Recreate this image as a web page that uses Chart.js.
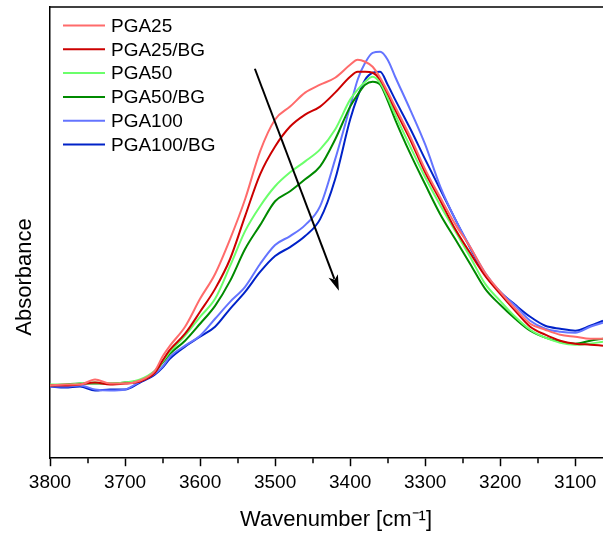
<!DOCTYPE html>
<html>
<head>
<meta charset="utf-8">
<script src="https://cdn.jsdelivr.net/npm/chart.js@4.4.0/dist/chart.umd.min.js"></script>
<style>
  html, body { margin: 0; padding: 0; background: #fff; }
  #wrap { width: 603px; height: 536px; }
</style>
</head>
<body>
<div id="wrap"><canvas id="Chart" width="603" height="536"></canvas></div>
<script>
// FTIR spectra, O-H / N-H stretching region
const wavenumber = [3800,3780,3760,3740,3720,3700,3680,3660,3650,3640,3620,3600,3580,3560,3540,3520,3500,3480,3460,3440,3420,3400,3390,3380,3370,3360,3350,3340,3320,3300,3280,3260,3240,3220,3200,3180,3160,3140,3120,3100,3080,3063];

const pga25 = [0.73,0.74,0.74,0.79,0.75,0.75,0.78,0.88,1.02,1.13,1.32,1.60,1.85,2.20,2.60,3.08,3.40,3.53,3.67,3.75,3.82,3.95,4.00,3.98,3.93,3.82,3.68,3.53,3.23,2.90,2.62,2.35,2.12,1.86,1.67,1.50,1.35,1.29,1.24,1.22,1.20,1.20];
const pga25bg = [0.73,0.73,0.74,0.76,0.74,0.75,0.77,0.86,0.98,1.09,1.25,1.47,1.70,2.00,2.43,2.85,3.13,3.33,3.45,3.53,3.67,3.83,3.88,3.88,3.87,3.80,3.66,3.50,3.20,2.87,2.59,2.30,2.06,1.83,1.65,1.48,1.32,1.24,1.18,1.15,1.14,1.13];
const pga50 = [0.74,0.74,0.75,0.76,0.75,0.76,0.79,0.88,0.97,1.07,1.23,1.42,1.60,1.93,2.28,2.53,2.73,2.87,2.98,3.10,3.30,3.60,3.70,3.78,3.83,3.77,3.62,3.45,3.13,2.82,2.54,2.28,2.02,1.75,1.58,1.42,1.29,1.21,1.16,1.14,1.15,1.17];
const pga50bg = [0.73,0.74,0.75,0.75,0.75,0.76,0.78,0.87,0.96,1.05,1.18,1.35,1.53,1.78,2.10,2.34,2.58,2.68,2.80,2.93,3.20,3.53,3.65,3.75,3.78,3.75,3.59,3.40,3.06,2.75,2.45,2.20,1.95,1.70,1.54,1.40,1.28,1.21,1.17,1.15,1.18,1.20];
const pga100 = [0.72,0.72,0.73,0.69,0.68,0.69,0.77,0.85,0.92,1.02,1.13,1.23,1.40,1.57,1.72,1.95,2.14,2.23,2.34,2.53,3.00,3.53,3.80,3.97,4.07,4.08,4.00,3.83,3.50,3.15,2.73,2.40,2.12,1.86,1.67,1.53,1.38,1.30,1.27,1.26,1.32,1.36];
const pga100bg = [0.72,0.71,0.72,0.68,0.69,0.69,0.76,0.84,0.91,1.00,1.12,1.22,1.32,1.50,1.67,1.87,2.03,2.12,2.23,2.40,2.80,3.40,3.63,3.80,3.87,3.88,3.75,3.60,3.31,3.00,2.70,2.40,2.11,1.84,1.67,1.54,1.42,1.33,1.30,1.28,1.33,1.38];

const names = ['PGA25','PGA25/BG','PGA50','PGA50/BG','PGA100','PGA100/BG'];
const series = [pga25, pga25bg, pga50, pga50bg, pga100, pga100bg];
const colors = ['#FF6B6B','#CC0000','#6BFF6B','#008A00','#6474FF','#0022C8'];

const minorTicks = [3750,3650,3550,3450,3350,3250,3150];
// trend arrow [wavenumber, absorbance]
const arrowFrom = [3527, 3.91];
const arrowTo = [3415, 1.68];

const FONT = "'Liberation Sans', Arial, sans-serif";

const extras = {
  id: 'extras',
  afterDraw(chart) {
    const ctx = chart.ctx;
    const a = chart.chartArea;
    const x = chart.scales.x, y = chart.scales.y;
    ctx.save();
    ctx.strokeStyle = '#000';
    ctx.fillStyle = '#000';

    // top frame line
    ctx.lineWidth = 1.5;
    ctx.beginPath();
    ctx.moveTo(a.left, a.top);
    ctx.lineTo(a.right, a.top);
    ctx.stroke();

    // minor ticks
    minorTicks.forEach(v => {
      const px = Math.round(x.getPixelForValue(v));
      ctx.beginPath();
      ctx.moveTo(px, a.bottom);
      ctx.lineTo(px, a.bottom + 5);
      ctx.stroke();
    });

    // arrow
    const x1 = x.getPixelForValue(arrowFrom[0]), y1 = y.getPixelForValue(arrowFrom[1]);
    const x2 = x.getPixelForValue(arrowTo[0]), y2 = y.getPixelForValue(arrowTo[1]);
    const ang = Math.atan2(y2 - y1, x2 - x1);
    const hl = 16, hw = 5;
    ctx.lineWidth = 2;
    ctx.beginPath();
    ctx.moveTo(x1, y1);
    ctx.lineTo(x2 - Math.cos(ang) * hl * 0.8, y2 - Math.sin(ang) * hl * 0.8);
    ctx.stroke();
    ctx.beginPath();
    ctx.moveTo(x2, y2);
    ctx.lineTo(x2 - Math.cos(ang) * hl - Math.sin(ang) * hw, y2 - Math.sin(ang) * hl + Math.cos(ang) * hw);
    ctx.lineTo(x2 - Math.cos(ang) * hl * 0.75, y2 - Math.sin(ang) * hl * 0.75);
    ctx.lineTo(x2 - Math.cos(ang) * hl + Math.sin(ang) * hw, y2 - Math.sin(ang) * hl - Math.cos(ang) * hw);
    ctx.closePath();
    ctx.fill();

    // legend
    ctx.font = '19px ' + FONT;
    ctx.textBaseline = 'middle';
    ctx.textAlign = 'left';
    chart.data.datasets.forEach((ds, i) => {
      const ly = a.top + 18.5 + i * 23.8;
      ctx.strokeStyle = ds.borderColor;
      ctx.lineWidth = 2;
      ctx.beginPath();
      ctx.moveTo(a.left + 13, ly);
      ctx.lineTo(a.left + 55, ly);
      ctx.stroke();
      ctx.fillStyle = '#000';
      ctx.fillText(ds.label, a.left + 61, ly + 1);
    });

    // axis titles
    ctx.fillStyle = '#000';
    ctx.font = '22px ' + FONT;
    ctx.textAlign = 'center';
    ctx.fillText('Wavenumber [cm\u207B\u00B9]', 336, 520);
    ctx.save();
    ctx.translate(25, 277);
    ctx.rotate(-Math.PI / 2);
    ctx.fillText('Absorbance', 0, 0);
    ctx.restore();

    ctx.restore();
  }
};

const ctx = document.getElementById('Chart').getContext('2d');
const spectra = new Chart(ctx, {
  type: 'line',
  data: {
    labels: wavenumber,
    datasets: series.map((s, i) => ({
      label: names[i],
      data: s.map((v, j) => ({ x: wavenumber[j], y: v })),
      borderColor: colors[i],
      borderWidth: 2,
      pointRadius: 0,
      fill: false,
      cubicInterpolationMode: 'monotone'
    }))
  },
  options: {
    responsive: false,
    animation: false,
    devicePixelRatio: 1,
    layout: { padding: { left: 50, top: 7, right: 0, bottom: 37 } },
    plugins: { legend: { display: false }, tooltip: { enabled: false } },
    scales: {
      x: {
        type: 'linear',
        reverse: true,
        min: 3063,
        max: 3800,
        ticks: {
          stepSize: 100,
          includeBounds: false,
          autoSkip: false,
          maxRotation: 0,
          padding: 5,
          color: '#000',
          font: { family: FONT, size: 19 },
          callback: v => String(v)
        },
        grid: { drawOnChartArea: false, tickLength: 8, tickColor: '#000', tickWidth: 1.5 },
        border: { color: '#000', width: 1.5 }
      },
      y: {
        min: 0,
        max: 4.53,
        ticks: { display: false },
        grid: { drawOnChartArea: false, drawTicks: false },
        border: { color: '#000', width: 1.5 }
      }
    }
  },
  plugins: [extras]
});
</script>
</body>
</html>
